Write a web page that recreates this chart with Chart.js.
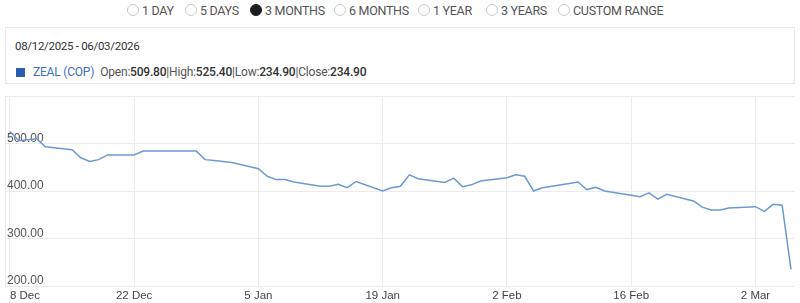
<!DOCTYPE html>
<html>
<head>
<meta charset="utf-8">
<script src="https://cdn.jsdelivr.net/npm/chart.js@4"></script>
<style>
  body { margin: 0; width: 800px; height: 303px; overflow: hidden; background: #fff;
         font-family: Roboto, "Liberation Sans", sans-serif; color: #444; }
  .radio { position: absolute; top: 4px; width: 12px; height: 12px; border: 1px solid #c9c9c9; border-radius: 50%; box-sizing: border-box; }
  .radio.on { background: #1e1e1e; border-color: #1e1e1e; }
  .rlabel { position: absolute; top: 3px; font-size: 12.5px; color: #555; white-space: nowrap; letter-spacing: -0.3px; }
  #info { position: absolute; left: 5px; top: 27px; width: 790px; height: 57px; border: 1px solid #e9e9e9; box-sizing: border-box; }
  #dates { position: absolute; left: 9px; top: 11px; font-size: 11.5px; color: #333; letter-spacing: -0.3px; }
  #legend { position: absolute; left: 10px; top: 37px; font-size: 12px; color: #555; white-space: nowrap; letter-spacing: -0.2px; }
  #legend .sw { display: inline-block; width: 9px; height: 9px; background: #2a5db0; margin-right: 8px; vertical-align: -1px; }
  #legend .name { color: #3c6fc2; margin-right: 6px; }
  #legend b { color: #333; font-weight: 500; }
  #wrap { position: absolute; left: 5px; top: 96px; width: 790px; height: 207px; }
</style>
</head>
<body>
<div id="ranges"></div>
<div id="info">
  <div id="dates">08/12/2025 - 06/03/2026</div>
  <div id="legend"></div>
</div>
<div id="wrap"><canvas id="zealChart" width="790" height="207"></canvas></div>
<script>
// range selector (3 MONTHS active)
const rangeNames = ['1 DAY', '5 DAYS', '3 MONTHS', '6 MONTHS', '1 YEAR', '3 YEARS', 'CUSTOM RANGE'];
const rangeCircleX = [133, 191, 256, 340, 424, 492, 564];
const activeRange = '3 MONTHS';

// summary line
const seriesName = 'ZEAL (COP)';
const summaryLabels = ['Open', 'High', 'Low', 'Close'];
const summaryValues = [509.80, 525.40, 234.90, 234.90];

// daily closes, trading days only
const closeDates = [
  '2025-12-08', '2025-12-09', '2025-12-10', '2025-12-11', '2025-12-12',
  '2025-12-15', '2025-12-16', '2025-12-17', '2025-12-18', '2025-12-19',
  '2025-12-22', '2025-12-23', '2025-12-24', '2025-12-26',
  '2025-12-29', '2025-12-30', '2025-12-31', '2026-01-02',
  '2026-01-05', '2026-01-06', '2026-01-07', '2026-01-08', '2026-01-09',
  '2026-01-12', '2026-01-13', '2026-01-14', '2026-01-15', '2026-01-16',
  '2026-01-19', '2026-01-20', '2026-01-21', '2026-01-22', '2026-01-23',
  '2026-01-26', '2026-01-27', '2026-01-28', '2026-01-29', '2026-01-30',
  '2026-02-02', '2026-02-03', '2026-02-04', '2026-02-05', '2026-02-06',
  '2026-02-09', '2026-02-10', '2026-02-11', '2026-02-12', '2026-02-13',
  '2026-02-16', '2026-02-17', '2026-02-18', '2026-02-19', '2026-02-20',
  '2026-02-23', '2026-02-24', '2026-02-25', '2026-02-26', '2026-02-27',
  '2026-03-02', '2026-03-03', '2026-03-04', '2026-03-05', '2026-03-06'
];
const closeValues = [
  525.4, 506, 508, 510, 493,
  487, 470, 462, 466, 476,
  476, 484, 484, 484,
  484, 466, 464, 460,
  447, 431, 424, 424, 419,
  410, 410, 414, 407, 420,
  400, 407, 410, 434, 426,
  418, 427, 409, 413, 421,
  428, 434, 431, 400, 407,
  416, 419, 403, 408, 400,
  391, 388, 396, 383, 393,
  379, 366, 360, 360, 364,
  367, 357, 372, 370, 234.9
];

// axis ticks
const xTickDates = ['2025-12-08', '2025-12-22', '2026-01-05', '2026-01-19', '2026-02-02', '2026-02-16', '2026-03-02'];
const xTickLabels = ['8 Dec', '22 Dec', '5 Jan', '19 Jan', '2 Feb', '16 Feb', '2 Mar'];
const yTickValues = [200, 300, 400, 500, 600];
const yTickLabels = ['200.00', '300.00', '400.00', '500.00', ''];

// --- header ---
const ranges = document.getElementById('ranges');
rangeNames.forEach(function (name, i) {
  const c = document.createElement('span');
  c.className = 'radio' + (name === activeRange ? ' on' : '');
  c.style.left = (rangeCircleX[i] - 6) + 'px';
  const t = document.createElement('span');
  t.className = 'rlabel';
  t.style.left = (rangeCircleX[i] + 9) + 'px';
  t.textContent = name;
  ranges.appendChild(c);
  ranges.appendChild(t);
});

let legendHtml = '<span class="sw"></span><span class="name">' + seriesName + '</span>';
legendHtml += summaryLabels.map(function (lab, i) {
  return lab + ':<b>' + summaryValues[i].toFixed(2) + '</b>';
}).join('|');
document.getElementById('legend').innerHTML = legendHtml;

// --- chart ---
const DAY = 86400000;
const t0 = Date.parse(closeDates[0]);
const toDay = function (d) { return (Date.parse(d) - t0) / DAY; };
const points = closeDates.map(function (d, i) { return { x: toDay(d), y: closeValues[i] }; });
const xTicks = xTickDates.map(toDay);
const X_MIN = -0.55, X_MAX = 88.45;

const zealChart = new Chart(document.getElementById('zealChart'), {
  type: 'line',
  data: {
    datasets: [{
      label: seriesName,
      data: points,
      borderColor: '#6c99d6',
      borderWidth: 1.5,
      pointRadius: 0,
      tension: 0,
      fill: false
    }]
  },
  options: {
    responsive: false,
    animation: false,
    devicePixelRatio: 1,
    layout: { padding: 0 },
    plugins: { legend: { display: false }, tooltip: { enabled: false } },
    scales: {
      x: {
        type: 'linear',
        min: X_MIN,
        max: X_MAX,
        afterBuildTicks: function (s) {
          s.ticks = xTicks.concat([X_MAX]).map(function (v) { return { value: v }; });
        },
        afterFit: function (s) { s.height = 17; s.paddingLeft = 0; s.paddingRight = 0; },
        grid: { color: '#ebebeb', drawTicks: false },
        border: { display: false },
        ticks: {
          align: 'inner',
          padding: 3,
          maxRotation: 0,
          autoSkip: false,
          color: '#444',
          font: { family: 'Arial, "Liberation Sans", sans-serif', size: 11.5 },
          callback: function (v) {
            const i = xTicks.indexOf(v);
            return i >= 0 ? xTickLabels[i] : '';
          }
        }
      },
      y: {
        min: 200,
        max: 600,
        afterBuildTicks: function (s) {
          s.ticks = yTickValues.map(function (v) { return { value: v }; });
        },
        afterFit: function (s) { s.width = 0; s.paddingTop = 0; s.paddingBottom = 0; },
        grid: { color: '#ebebeb', drawTicks: false },
        border: { display: true, color: '#ebebeb' },
        ticks: {
          mirror: true,
          padding: 2,
          labelOffset: -5,
          color: '#555',
          font: { family: 'Arial, "Liberation Sans", sans-serif', size: 12 },
          callback: function (v) {
            const i = yTickValues.indexOf(v);
            return i >= 0 ? yTickLabels[i] : '';
          }
        }
      }
    }
  }
});
</script>
</body>
</html>
